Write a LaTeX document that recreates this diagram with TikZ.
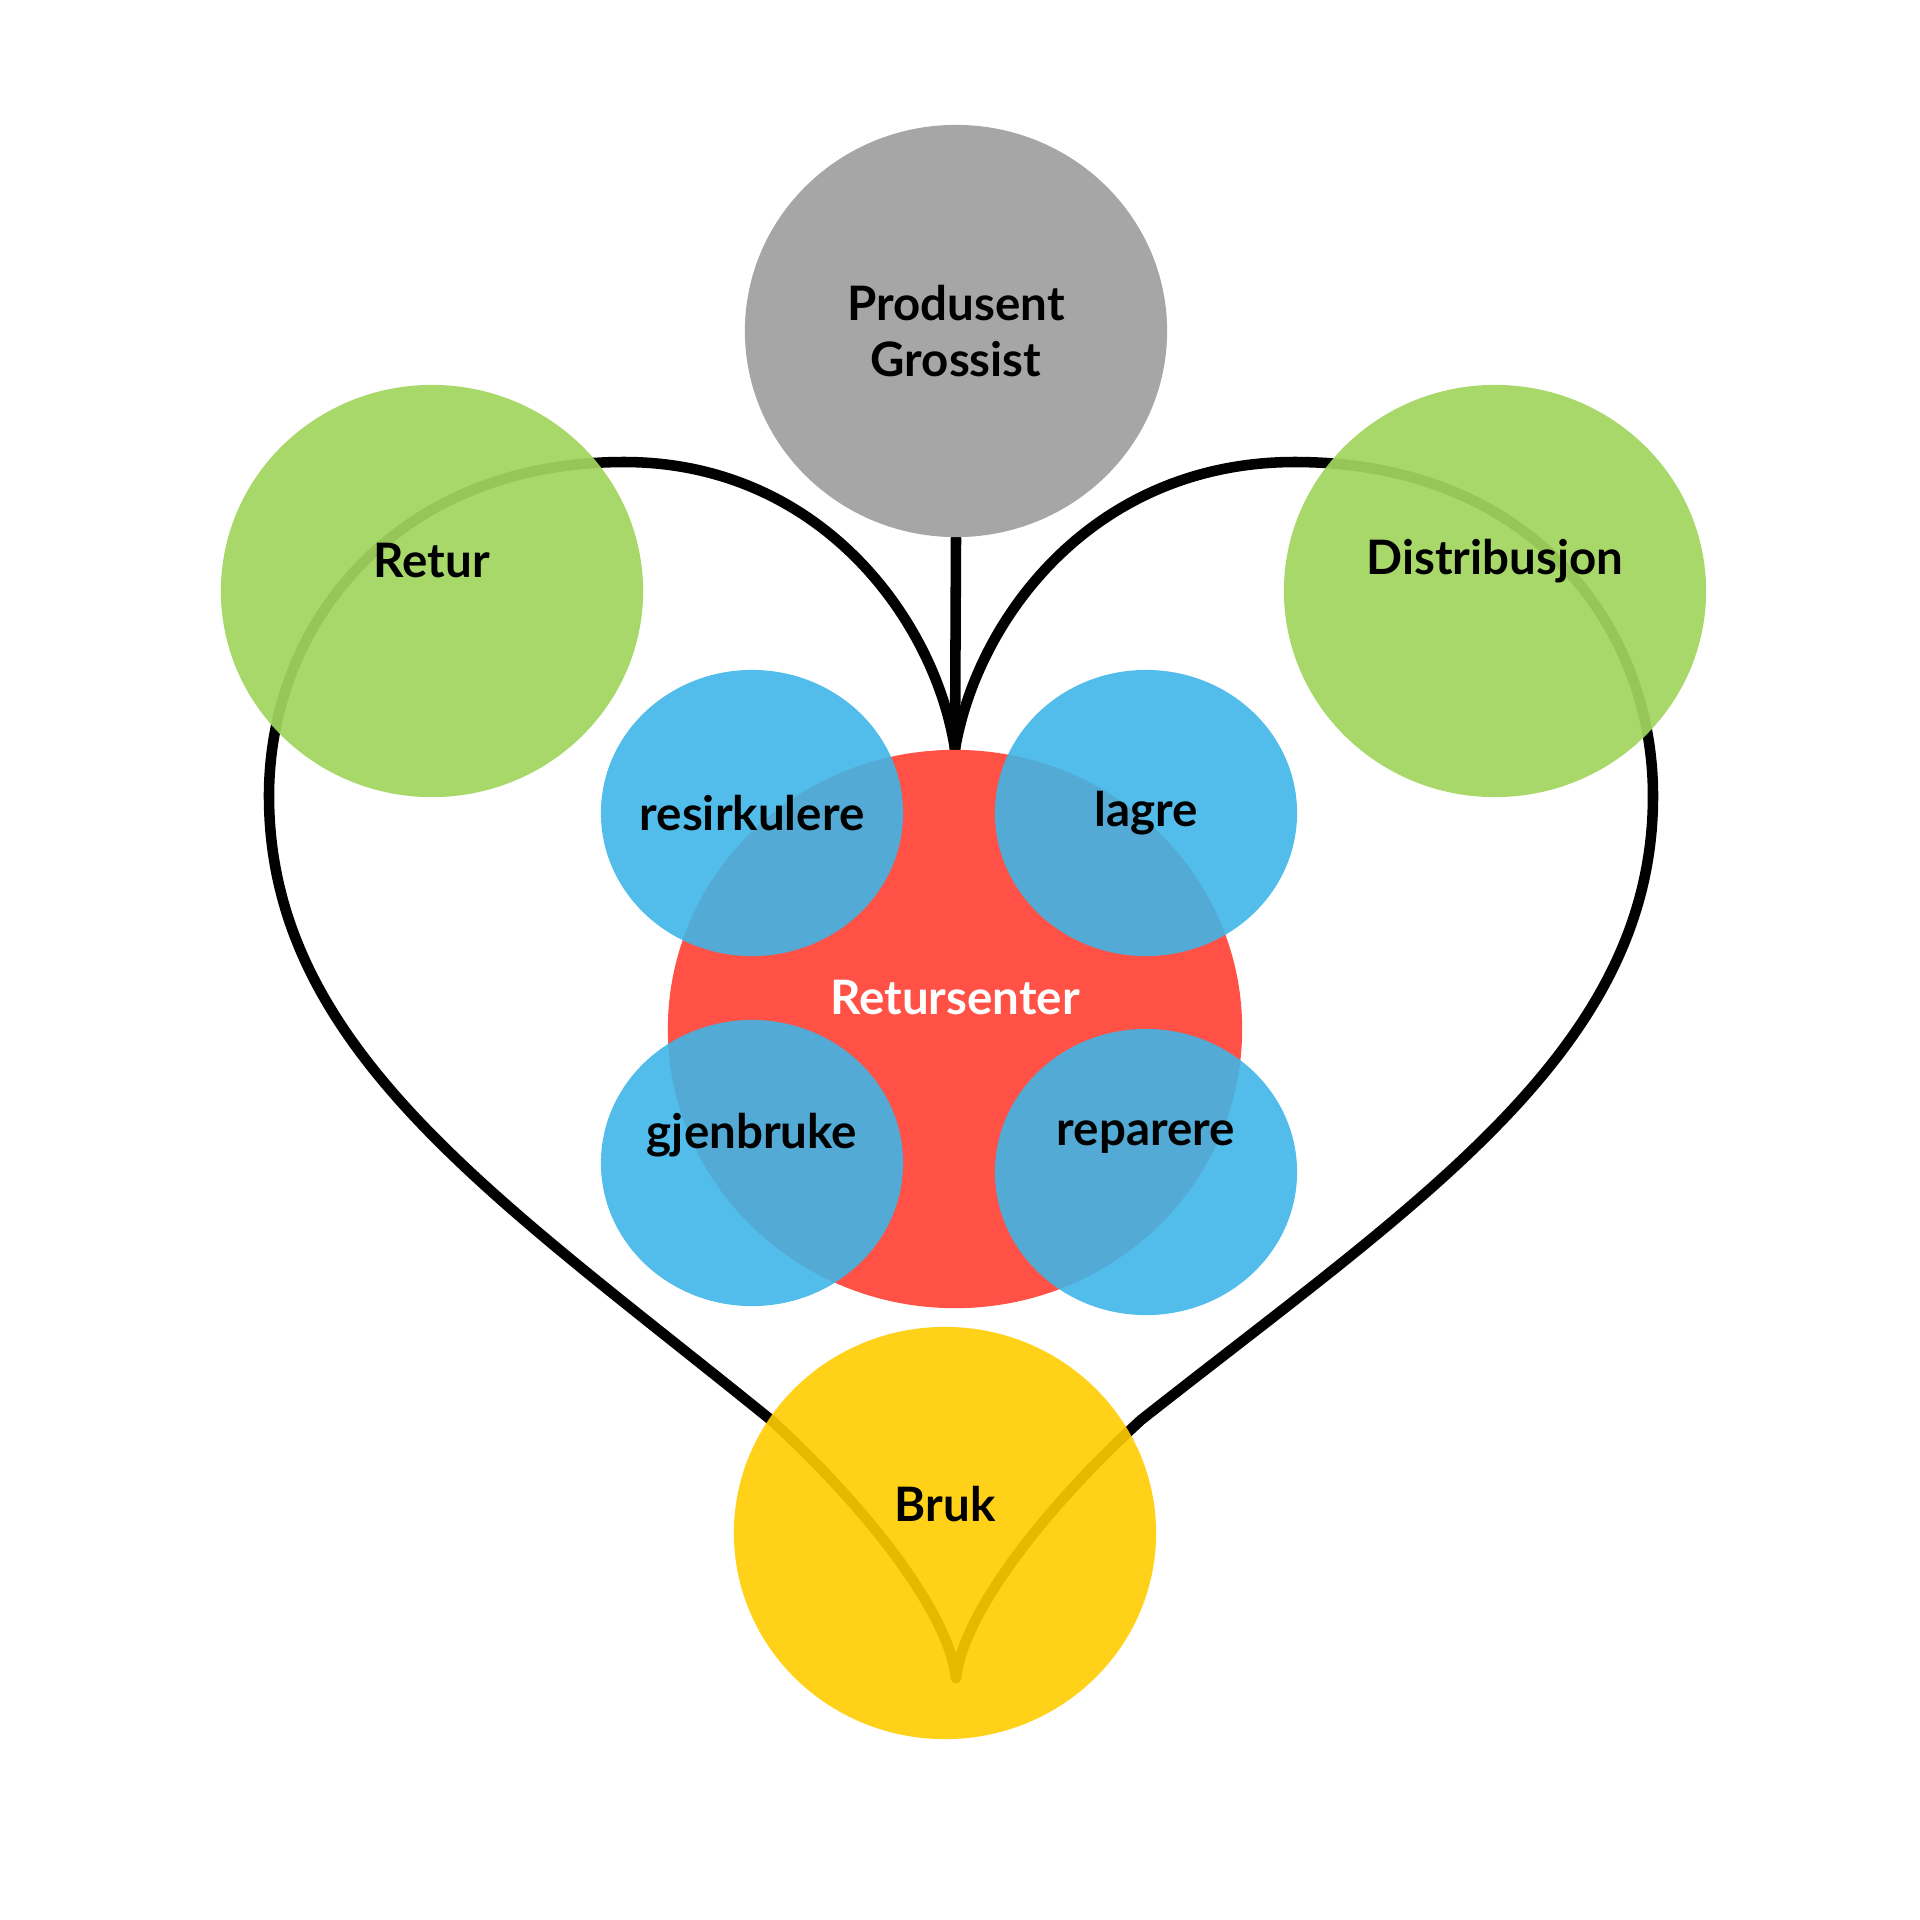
\documentclass[tikz,border=0pt]{standalone}
\usepackage{fontspec}
\setmainfont{Lato}
\usetikzlibrary{shapes.geometric,backgrounds}
\definecolor{graa}{HTML}{A6A6A6}
\definecolor{groenn}{RGB}{162,213,95}
\definecolor{roed}{HTML}{FF5145}
\definecolor{blaa}{RGB}{61,181,231}
\definecolor{gul}{RGB}{255,205,0}
\tikzset{
  bubble/.style={ellipse, inner sep=0pt, font=\bfseries\fontsize{13.5}{16}\selectfont, align=center},
  big/.style={bubble, minimum width=4.22cm, minimum height=4.12cm},
  small/.style={bubble, minimum width=3.02cm, minimum height=2.86cm, fill=blaa, fill opacity=0.89},
  heart/.style={line width=3pt, line cap=round}
}
\begin{document}
\begin{tikzpicture}[x=0.01cm, y=-0.01cm]
\useasboundingbox (0,0) rectangle (1920,1920);
\node[big, fill=graa] (prod) at (956,331) {Produsent\\Grossist};
\node[big, fill=groenn, fill opacity=0.93, label={[bubble, yshift=0.3cm]center:Retur}] (retur) at (432,591) {};
\node[big, fill=groenn, fill opacity=0.93, label={[bubble, yshift=0.3cm]center:Distribusjon}] (dist) at (1495,591) {};
\node[bubble, fill=roed, minimum width=5.74cm, minimum height=5.58cm, label={[bubble, white, yshift=0.31cm]center:Retursenter}] (senter) at (955,1029) {};
\node[small, label={[bubble]center:resirkulere}] (resirk) at (752,813) {};
\node[small, label={[bubble]center:lagre}] (lagre) at (1146,813) {};
\node[small, label={[bubble, yshift=0.28cm]center:gjenbruke}] (gjenbruk) at (752,1163) {};
\node[small, label={[bubble, yshift=0.35cm]center:reparere}] (reparer) at (1146,1172) {};
\node[big, fill=gul, fill opacity=0.9, label={[bubble, yshift=0.29cm]center:Bruk}] (bruk) at (945,1533) {};
\coordinate (spiss) at (956,1678);
\begin{scope}[on background layer]
\draw[heart] (prod.south) -- (senter.north);
\draw[heart] (senter.north) .. controls (935,620) and (820,462) .. (624,462) .. controls (400,462) and (269,620) .. (269,796) .. controls (269,1050) and (500,1200) .. (771,1420) .. controls (880,1520) and (950,1620) .. (spiss);
\draw[heart] (senter.north) .. controls (977,620) and (1092,462) .. (1295,462) .. controls (1525,462) and (1653,620) .. (1653,796) .. controls (1653,1050) and (1420,1200) .. (1141,1420) .. controls (1032,1520) and (962,1620) .. (spiss);
\end{scope}
\end{tikzpicture}
\end{document}
